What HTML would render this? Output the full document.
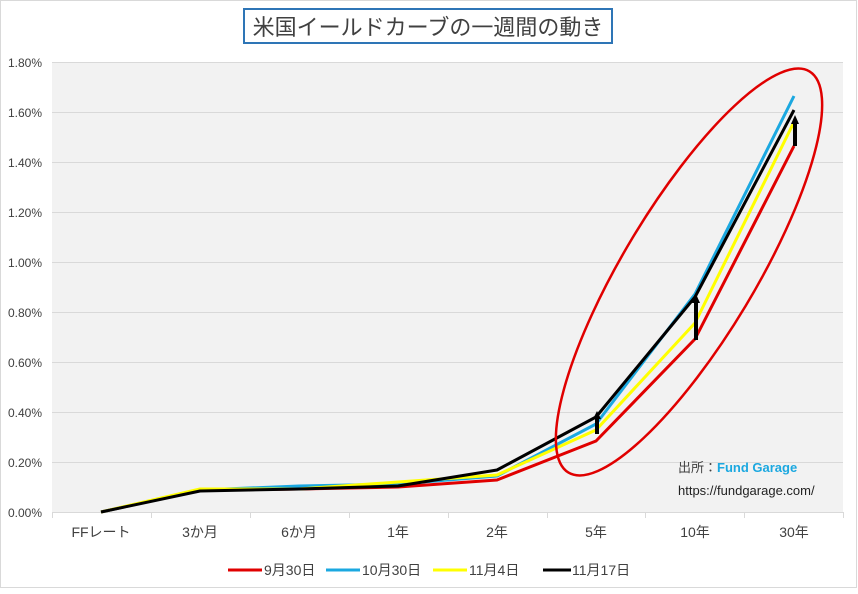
<!DOCTYPE html>
<html><head><meta charset="utf-8"><style>
body{margin:0;background:#fff;}
svg text{font-family:"Liberation Sans","Noto Sans CJK JP",sans-serif;}
</style></head><body>
<svg width="858" height="589" viewBox="0 0 858 589" xmlns="http://www.w3.org/2000/svg">
<rect x="0.5" y="0.5" width="856" height="587" fill="#fff" stroke="#d9d9d9"/>
<rect x="244" y="9" width="368" height="34" fill="#fff" stroke="#2e75b6" stroke-width="2"/>
<text x="428" y="35" font-size="22" fill="#404040" text-anchor="middle">米国イールドカーブの一週間の動き</text>
<rect x="52" y="62" width="791" height="450" fill="#f2f2f2"/>
<g stroke="#d9d9d9" stroke-width="1">
<line x1="52" y1="62.5" x2="843" y2="62.5"/><line x1="52" y1="112.5" x2="843" y2="112.5"/>
<line x1="52" y1="162.5" x2="843" y2="162.5"/><line x1="52" y1="212.5" x2="843" y2="212.5"/>
<line x1="52" y1="262.5" x2="843" y2="262.5"/><line x1="52" y1="312.5" x2="843" y2="312.5"/>
<line x1="52" y1="362.5" x2="843" y2="362.5"/><line x1="52" y1="412.5" x2="843" y2="412.5"/>
<line x1="52" y1="462.5" x2="843" y2="462.5"/>
<line x1="52" y1="512.5" x2="843" y2="512.5"/>
<line x1="52.5" y1="512" x2="52.5" y2="518"/><line x1="151.5" y1="512" x2="151.5" y2="518"/>
<line x1="250.5" y1="512" x2="250.5" y2="518"/><line x1="349.5" y1="512" x2="349.5" y2="518"/>
<line x1="448.5" y1="512" x2="448.5" y2="518"/><line x1="547.5" y1="512" x2="547.5" y2="518"/>
<line x1="645.5" y1="512" x2="645.5" y2="518"/><line x1="744.5" y1="512" x2="744.5" y2="518"/>
<line x1="843.5" y1="512" x2="843.5" y2="518"/>
</g>
<g font-size="12" fill="#404040" text-anchor="end">
<text x="42" y="67">1.80%</text><text x="42" y="117">1.60%</text><text x="42" y="167">1.40%</text>
<text x="42" y="217">1.20%</text><text x="42" y="267">1.00%</text><text x="42" y="317">0.80%</text>
<text x="42" y="367">0.60%</text><text x="42" y="417">0.40%</text><text x="42" y="467">0.20%</text>
<text x="42" y="517">0.00%</text>
</g>
<g font-size="14" fill="#404040" text-anchor="middle">
<text x="101" y="537">FFレート</text><text x="200" y="537">3か月</text><text x="299" y="537">6か月</text>
<text x="398" y="537">1年</text><text x="497" y="537">2年</text><text x="596" y="537">5年</text>
<text x="695" y="537">10年</text><text x="794" y="537">30年</text>
</g>
<g fill="none" stroke-width="3" stroke-linejoin="round">
<polyline stroke="#e00000" points="101,512 200,490 299,489 398,487 497,480 596,441 695,339 794,146"/>
<polyline stroke="#1ba8e0" points="101,512 200,490 299,486 398,484 497,476 596,424 695,294 794,96"/>
<polyline stroke="#ffff00" points="101,512 200,489 299,489 398,482 497,475 596,430 695,323 794,122"/>
<polyline stroke="#000" points="101,512 200,491 299,489 398,486 497,470 596,417 695,297 794,110"/>
</g>
<g stroke="#000" stroke-width="4" fill="#000">
<line x1="597" y1="434" x2="597" y2="416"/><polygon points="593,419 597,411 601,419" stroke="none"/>
<line x1="696" y1="340" x2="696" y2="300"/><polygon points="692,303 696,294 700,303" stroke="none"/>
<line x1="795" y1="146" x2="795" y2="121"/><polygon points="791,124 795,115 799,124" stroke="none"/>
</g>
<ellipse cx="689" cy="272" rx="234" ry="66" transform="rotate(-59 689 272)" fill="none" stroke="#e00000" stroke-width="2.5"/>
<text x="678" y="472" font-size="13" fill="#404040">出所：<tspan fill="#1ba8e0" font-weight="bold">Fund Garage</tspan></text>
<text x="678" y="495" font-size="13" fill="#222">https://fundgarage.com/</text>
<g font-size="14" fill="#404040">
<line x1="228" y1="570" x2="262" y2="570" stroke="#e00000" stroke-width="3"/><text x="264" y="575">9月30日</text>
<line x1="326" y1="570" x2="360" y2="570" stroke="#1ba8e0" stroke-width="3"/><text x="362" y="575">10月30日</text>
<line x1="433" y1="570" x2="467" y2="570" stroke="#ffff00" stroke-width="3"/><text x="469" y="575">11月4日</text>
<line x1="543" y1="570" x2="571" y2="570" stroke="#000" stroke-width="3"/><text x="572" y="575">11月17日</text>
</g>
</svg>
</body></html>
